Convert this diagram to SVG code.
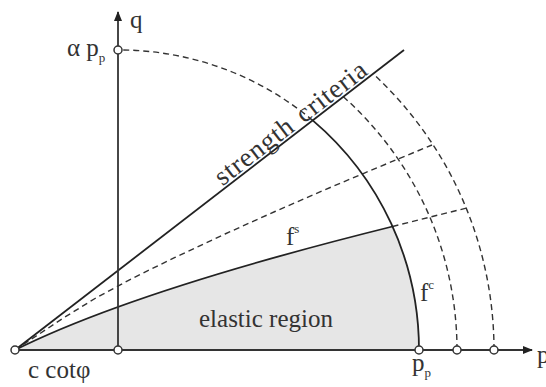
<svg xmlns="http://www.w3.org/2000/svg" width="546" height="387" viewBox="0 0 546 387">
<defs>
<style>
.solid{fill:none;stroke:#222;stroke-width:1.8}
.dash{fill:none;stroke:#333;stroke-width:1.4;stroke-dasharray:6 4}
.axis{fill:none;stroke:#333;stroke-width:1.8}
.pt{fill:#fff;stroke:#333;stroke-width:1.5}
.lbl{font-family:"Liberation Serif","Times New Roman",serif;font-size:25px;fill:#333}
.sub{font-size:13px}
.sup{font-size:13px}
</style>
<marker id="arr" viewBox="0 0 10 8" refX="9" refY="4" markerWidth="10" markerHeight="8" markerUnits="userSpaceOnUse" orient="auto">
<path d="M0,0 L10,4 L0,8 z" fill="#222"/>
</marker>
</defs>
<rect width="546" height="387" fill="#fff"/>
<g id="elastic-region">
<path d="M15 350 L419 350 A301 301 0 0 0 392.5 226.5 Q133 291 15 350 Z" fill="#e6e6e6"/>
</g>
<g id="connectors">
<path class="dash" d="M312.7 120.4 A301 301 0 0 0 118 50"/>
<path class="dash" d="M457 350 A339 339 0 0 0 343.4 96.8"/>
<path class="dash" d="M494 350 A376 376 0 0 0 373.1 73.8"/>
<path class="dash" d="M15 350 L65 317 L95 298.5 L133 278 L175 257.4 L225 234 L275 211.5 L325 189.7 L375 168.6 L432 145"/>
<path class="dash" d="M392.5 226.5 Q430 217 467 208"/>
<path class="solid" d="M15 350 L404 50"/>
<path class="solid" d="M15 350 Q133 291 392.5 226.5"/>
<path class="solid" d="M419 350 A301 301 0 0 0 312.7 120.4"/>
<line class="axis" x1="15" y1="350" x2="532" y2="350" marker-end="url(#arr)"/>
<line class="axis" x1="118" y1="350" x2="118" y2="12" marker-end="url(#arr)"/>
</g>
<g id="points">
<circle class="pt" cx="15" cy="350" r="4"/>
<circle class="pt" cx="118" cy="350" r="4"/>
<circle class="pt" cx="419" cy="350" r="4"/>
<circle class="pt" cx="457" cy="350" r="4"/>
<circle class="pt" cx="494" cy="350" r="4"/>
<circle class="pt" cx="118" cy="50" r="4"/>
</g>
<g id="labels">
<text class="lbl" x="130" y="28">q</text>
<text class="lbl" x="67" y="56">α p<tspan class="sub" dy="6">p</tspan></text>
<text class="lbl" x="28" y="378">c cotφ</text>
<text class="lbl" x="412" y="371">p<tspan class="sub" dy="6">p</tspan></text>
<text class="lbl" x="537" y="363">p</text>
<text class="lbl" x="199" y="327">elastic region</text>
<text class="lbl" x="286" y="245">f<tspan class="sup" dy="-12">s</tspan></text>
<text class="lbl" x="420" y="301">f<tspan class="sup" dy="-12">c</tspan></text>
<text class="lbl" transform="translate(222.5 186.5) rotate(-37.64)" style="font-size:27px;letter-spacing:0.8px;word-spacing:2px">strength criteria</text>
</g>
</svg>
